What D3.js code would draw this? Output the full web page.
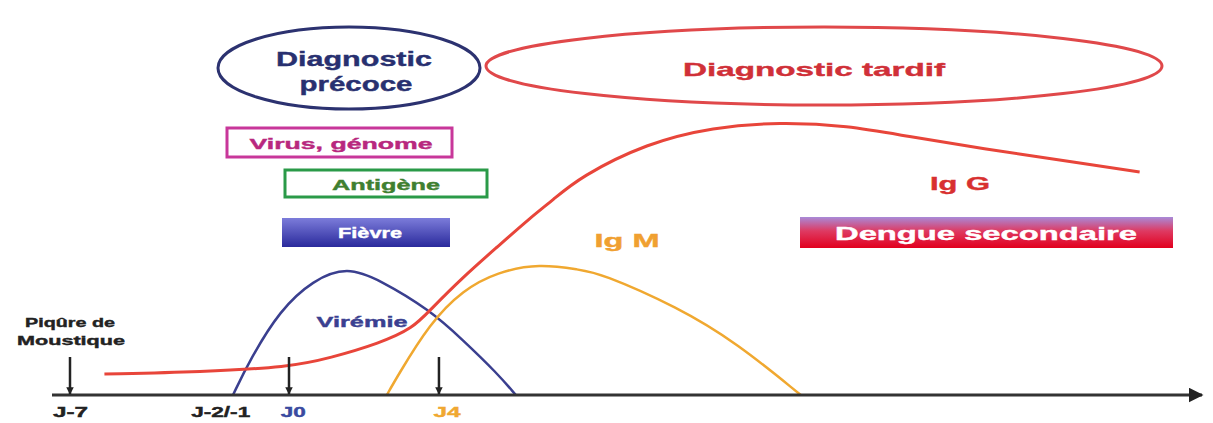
<!DOCTYPE html>
<html>
<head>
<meta charset="utf-8">
<script src="https://cdnjs.cloudflare.com/ajax/libs/d3/7.8.5/d3.min.js"></script>
<style>
  body { margin: 0; background: #fff; }
  text { font-family: "Liberation Sans", Arial, sans-serif; font-weight: bold; }
</style>
</head>
<body>
<script>
// days relative to J0 and relative antibody / virus levels (0-100)
var igGDays  = [-5.9, -2.8, 0, 1.09, 2.43, 3.31, 3.76, 4.64, 5.55, 6.43, 7.04, 7.76, 9.55, 11.31, 13.09, 14.9, 16.5, 18.43, 21.09, 22.69];
var igGLevel = [7, 7.7, 9.3, 12.3, 17.3, 22.3, 28.3, 39.3, 49.3, 59, 65, 72.7, 84, 89.3, 91, 89.8, 86.2, 82.3, 77.3, 74.3];

var viremiaDays  = [-1.79, -1.25, -0.29, 0.64, 1.55, 2.43, 3.76, 4.64, 5.55, 6.05];
var viremiaLevel = [0, 11.7, 28.3, 38.3, 42.8, 38.3, 28.3, 18.3, 7.3, 0];

var igMDays  = [2.61, 2.88, 3.76, 4.64, 5.55, 6.69, 7.76, 8.29, 10.37, 11.95, 13.65];
var igMLevel = [0, 6, 24, 35, 41, 43.8, 41.7, 40.7, 29.3, 17.3, 0];

var tickDays   = [-7, -2.2, 0.1, 4.2];
var tickLabels = ['J-7', 'J-2/-1', 'J0', 'J4'];
var tickColors = ['#222', '#222', '#3a4aa0', '#f0a830'];
var tickWidths = [35, 59, 25, 27];
var arrowDays  = [-7, 0, 4];

var width = 1213;
var height = 423;

var svg = d3.select('body').append('svg')
  .attr('width', width)
  .attr('height', height)

var x = d3.scaleLinear().domain([-7, 0, 24.3]).range([70, 289, 1200]);
var y = d3.scaleLinear().domain([0, 100]).range([395, 95]);

var defs = svg.append('defs');
defs.append('marker').attr('id', 'arrowhead')
  .attr('viewBox', '0 0 10 10').attr('refX', 9).attr('refY', 5)
  .attr('markerWidth', 5).attr('markerHeight', 5).attr('orient', 'auto')
  .append('path').attr('d', 'M0,0L10,5L0,10Z').attr('fill', '#222');
defs.append('marker').attr('id', 'tickhead')
  .attr('viewBox', '0 0 10 10').attr('refX', 9).attr('refY', 5)
  .attr('markerWidth', 3).attr('markerHeight', 3).attr('orient', 'auto')
  .append('path').attr('d', 'M0,0L10,5L0,10Z').attr('fill', '#222');

var g1 = defs.append('linearGradient').attr('id', 'fievre').attr('x1', 0).attr('y1', 0).attr('x2', 0).attr('y2', 1);
g1.append('stop').attr('offset', '0%').attr('stop-color', '#7c7cda');
g1.append('stop').attr('offset', '100%').attr('stop-color', '#2a2a9c');
var g2 = defs.append('linearGradient').attr('id', 'dengue').attr('x1', 0).attr('y1', 0).attr('x2', 0).attr('y2', 1);
g2.append('stop').attr('offset', '0%').attr('stop-color', '#a98ad8');
g2.append('stop').attr('offset', '45%').attr('stop-color', '#de3a62');
g2.append('stop').attr('offset', '100%').attr('stop-color', '#e2001e');

// helper for stretched bold labels
function label(txt, cx, by, size, color, w) {
  svg.append('text')
    .attr('x', cx).attr('y', by)
    .attr('text-anchor', 'middle')
    .attr('font-size', size)
    .attr('fill', color)
    .attr('stroke', color)
    .attr('stroke-width', 0.4)
    .attr('textLength', w)
    .attr('lengthAdjust', 'spacingAndGlyphs')
    .text(txt);
}

// ellipses
svg.append('ellipse').attr('cx', 349).attr('cy', 68).attr('rx', 131).attr('ry', 41)
  .attr('fill', 'none').attr('stroke', '#2c3270').attr('stroke-width', 3);
label('Diagnostic', 354, 66, 21, '#283070', 156);
label('précoce', 356, 91, 21, '#283070', 113);

svg.append('ellipse').attr('cx', 824).attr('cy', 66).attr('rx', 338).attr('ry', 39)
  .attr('fill', 'none').attr('stroke', '#e0484a').attr('stroke-width', 3);
label('Diagnostic tardif', 814, 76, 19, '#d03038', 262);

// boxes
svg.append('rect').attr('x', 227).attr('y', 128).attr('width', 225).attr('height', 29)
  .attr('fill', 'none').attr('stroke', '#c8379a').attr('stroke-width', 3);
label('Virus, génome', 341, 149, 15, '#b8287e', 183);

svg.append('rect').attr('x', 285).attr('y', 170).attr('width', 202).attr('height', 27)
  .attr('fill', 'none').attr('stroke', '#2a9a48').attr('stroke-width', 3);
label('Antigène', 386, 190, 15, '#3f7f30', 108);

svg.append('rect').attr('x', 282).attr('y', 218).attr('width', 168).attr('height', 29)
  .attr('fill', 'url(#fievre)');
label('Fièvre', 370, 238, 15, '#fff', 64);

svg.append('rect').attr('x', 800).attr('y', 217).attr('width', 373).attr('height', 31)
  .attr('fill', 'url(#dengue)');
label('Dengue secondaire', 986, 240, 19, '#fff', 302);

// curves
var line = d3.line()
  .x(function(d) { return x(d[0]); })
  .y(function(d) { return y(d[1]); })
  .curve(d3.curveBasis);

svg.append('path').datum(d3.zip(viremiaDays, viremiaLevel))
  .attr('d', line).attr('fill', 'none').attr('stroke', '#3a3f8f').attr('stroke-width', 2.5);
svg.append('path').datum(d3.zip(igMDays, igMLevel))
  .attr('d', line).attr('fill', 'none').attr('stroke', '#f0a830').attr('stroke-width', 2.5);
svg.append('path').datum(d3.zip(igGDays, igGLevel))
  .attr('d', line).attr('fill', 'none').attr('stroke', '#e8453a').attr('stroke-width', 3);

label('Virémie', 362, 327, 15, '#3a4090', 91);
label('Ig M', 627, 247, 18, '#f0a030', 65);
label('Ig G', 960, 190, 18, '#d83030', 60);

label('Piqûre de', 70, 327, 13, '#222', 90);
label('Moustique', 71, 345, 13, '#222', 108);

// time axis
svg.append('line').attr('x1', 52).attr('x2', 1202).attr('y1', y(0)).attr('y2', y(0))
  .attr('stroke', '#333').attr('stroke-width', 3).attr('marker-end', 'url(#arrowhead)');

svg.selectAll('.tickarrow').data(arrowDays).enter().append('line')
  .attr('class', 'tickarrow')
  .attr('x1', function(d) { return x(d); }).attr('x2', function(d) { return x(d); })
  .attr('y1', 357).attr('y2', y(0) - 1)
  .attr('stroke', '#222').attr('stroke-width', 2.5).attr('marker-end', 'url(#tickhead)');

var axis = d3.axisBottom(x)
  .tickValues(tickDays)
  .tickSize(0)
  .tickPadding(12)
  .tickFormat(function(d, i) { return tickLabels[i]; });

var ax = svg.append('g').attr('transform', 'translate(0,' + y(0) + ')').call(axis);
ax.select('.domain').remove();
ax.selectAll('text')
  .attr('font-size', 14)
  .attr('font-family', '"Liberation Sans", Arial, sans-serif')
  .attr('fill', function(d, i) { return tickColors[i]; })
  .attr('stroke', function(d, i) { return tickColors[i]; })
  .attr('stroke-width', 0.4)
  .attr('textLength', function(d, i) { return tickWidths[i]; })
  .attr('lengthAdjust', 'spacingAndGlyphs');
</script>
</body>
</html>
